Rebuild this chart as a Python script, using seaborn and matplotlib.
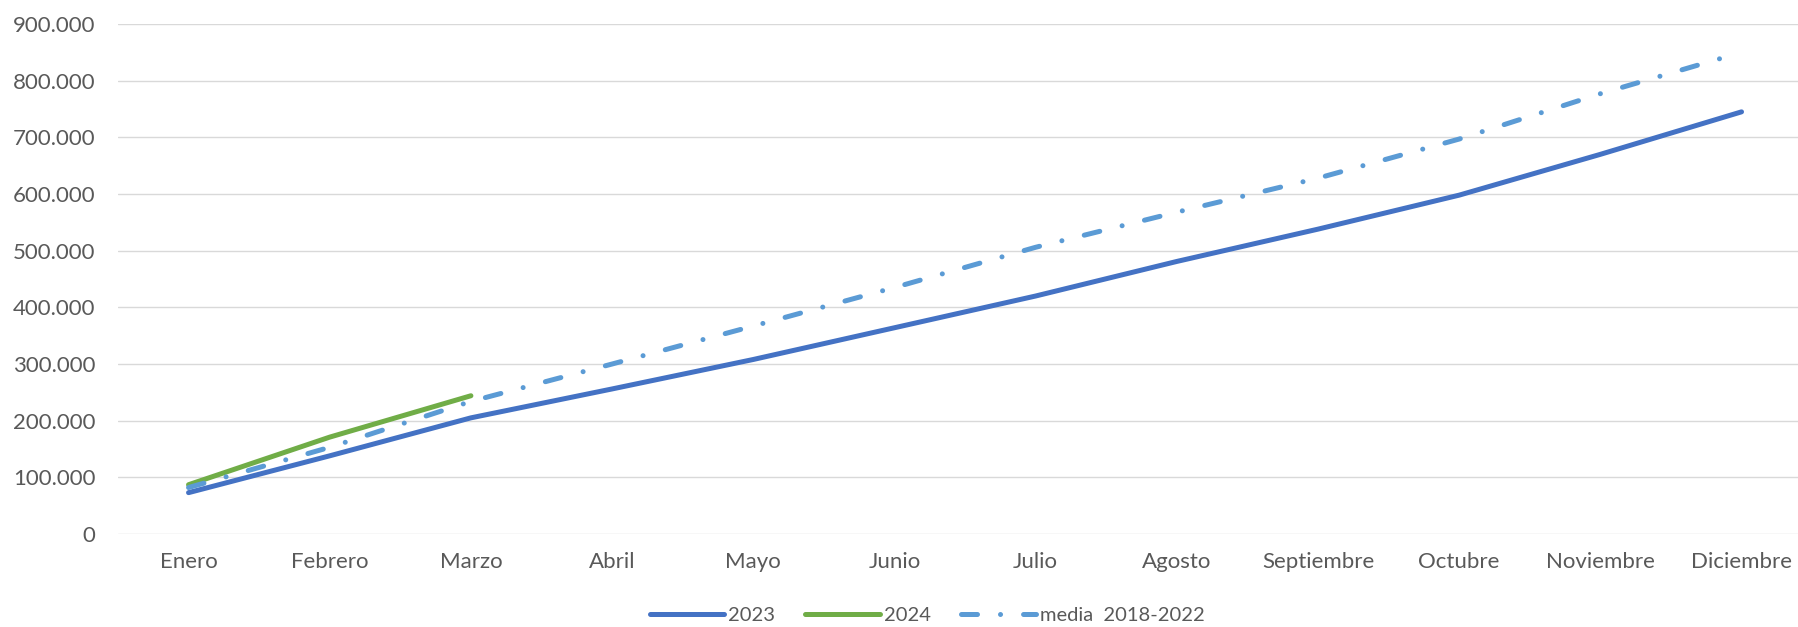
"""
Acumulado mensual: 2023, 2024 y media 2018-2022
"""
import pandas as pd
import numpy as np
import matplotlib
matplotlib.use("Agg")
import matplotlib.pyplot as plt
import seaborn as sns
from matplotlib.ticker import FuncFormatter

# datos
meses = ['Enero', 'Febrero', 'Marzo', 'Abril', 'Mayo', 'Junio', 'Julio',
         'Agosto', 'Septiembre', 'Octubre', 'Noviembre', 'Diciembre']
valores_2023 = [73000, 138000, 205000, 256000, 308000, 364000, 420000,
                481000, 538000, 598000, 670000, 745000]
valores_2024 = [87000, 171000, 244000]
valores_media = [82000, 153000, 234000, 300000, 367000, 435000, 506000,
                 568000, 628000, 697000, 777000, 850000]

series = ['2023', '2024', 'media  2018-2022']
colores = ['#4472C4', '#70AD47', '#5B9BD5']

sns.set_theme(style='white')
plt.rcParams['font.family'] = ['Lato', 'DejaVu Sans']

df = pd.concat([
    pd.DataFrame({'mes': meses, 'valor': valores_2023, 'serie': series[0]}),
    pd.DataFrame({'mes': meses[:len(valores_2024)], 'valor': valores_2024, 'serie': series[1]}),
    pd.DataFrame({'mes': meses, 'valor': valores_media, 'serie': series[2]}),
], ignore_index=True)
df['x'] = df['mes'].map({m: i for i, m in enumerate(meses)})

fig = plt.figure(figsize=(17.98, 6.27), dpi=100)
ax = fig.add_axes([0.0656, 0.1483, 0.9344, 0.8134])

sns.lineplot(data=df, x='x', y='valor', hue='serie', style='serie',
             hue_order=series, style_order=series,
             palette=dict(zip(series, colores)),
             dashes={series[0]: '', series[1]: '', series[2]: (3.2, 4.6, 0.01, 4.6)},
             linewidth=3.6, legend=False, ax=ax, sort=False)

lineas = ax.get_lines()
for ln in lineas:
    ln.set_solid_capstyle('round')
    ln.set_dash_capstyle('round')
lineas[2].set_zorder(4)

ax.set_xlim(-0.5, 11.4)
ax.set_ylim(0, 900000)
ax.set_xticks(range(len(meses)))
ax.set_xticklabels(meses)
ax.set_yticks(np.arange(0, 900001, 100000))
ax.yaxis.set_major_formatter(FuncFormatter(lambda v, p: f'{int(v):,}'.replace(',', '.')))
ax.set_xlabel('')
ax.set_ylabel('')
ax.grid(axis='y', color='#D9D9D9', linewidth=1.0)
ax.grid(axis='x', visible=False)
for s in ax.spines.values():
    s.set_visible(False)
ax.tick_params(axis='both', length=0, labelsize=16, colors='#595959')
ax.tick_params(axis='y', pad=16)
ax.tick_params(axis='x', pad=13)

ax.legend(lineas, series, loc='center', bbox_to_anchor=(0.5156, 0.018),
          bbox_transform=fig.transFigure, ncol=3, frameon=False,
          fontsize=14.5, labelcolor='#595959', handlelength=3.7,
          handletextpad=0.2, columnspacing=1.5)

plt.savefig('out.png', dpi=100)
plt.close()
